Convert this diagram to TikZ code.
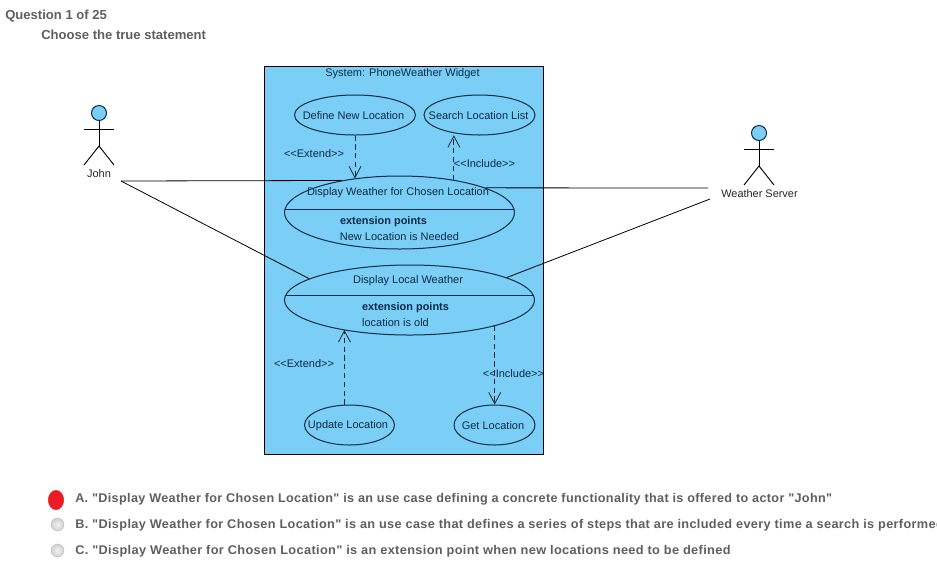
\documentclass[tikz,border=0pt]{standalone}
\usepackage{fontspec}
\setmainfont{Liberation Sans}
\newfontfamily\optfont[LetterSpace=2.7]{Liberation Sans}
\usetikzlibrary{shapes.geometric,arrows.meta,calc}
\definecolor{sysblue}{HTML}{7BCEF5}
\definecolor{ink}{HTML}{0A2A4A}
\definecolor{greytxt}{HTML}{5F5F5F}
\definecolor{alertred}{HTML}{ED1C24}
\newcommand{\gtgt}{{>}{>}}
\newcommand{\ltlt}{{<}{<}}
\tikzset{
  x=0.75pt,y=-0.75pt,
  system/.style={draw=black,line width=0.75pt,fill=sysblue},
  usecase/.style={ellipse,draw=ink,line width=0.75pt,fill=sysblue,inner sep=0pt},
  uctext/.style={inner sep=0pt,text=ink,font=\fontsize{8.25}{9.6}\selectfont},
  ucbold/.style={inner sep=0pt,text=ink,font=\bfseries\fontsize{8.2}{9.6}\selectfont},
  actorlabel/.style={inner sep=0pt,text=black!85,font=\fontsize{8.2}{9.6}\selectfont},
  assoc/.style={draw=black,line width=0.6pt},
  dep/.style={draw=ink,line width=0.6pt,dash pattern=on 4pt off 2.6pt,-{Straight Barb[length=8.5pt,width=9pt,line width=0.6pt]}},
  sep/.style={draw=ink,line width=0.75pt},
  actorline/.style={draw=black,line width=0.7pt},
  head/.style={circle,draw=ink,line width=0.75pt,fill=sysblue,inner sep=0pt,minimum size=11.25pt},
  qtext/.style={inner sep=0pt,anchor=west,text=greytxt,font=\bfseries\fontsize{9.8}{11}\selectfont},
  opt/.style={inner sep=0pt,anchor=west,text=greytxt,font=\optfont\bfseries\fontsize{9.45}{11}\selectfont},
  radio/.style={circle,draw=black!22,line width=0.6pt,inner color=white!90!gray,outer color=black!18,inner sep=0pt,minimum size=9.5pt}
}
\begin{document}
\begin{tikzpicture}
\useasboundingbox (0,0) rectangle (937,562);
\clip (0,0) rectangle (937,562);
\fill[white] (0,0) rectangle (937,562);

\node[qtext] (q1) at (5,16) {Question 1 of 25};
\node[qtext] (q2) at (41,35) {Choose the true statement};

\node[system,minimum width=209.25pt,minimum height=291pt,inner sep=0pt] (sys) at (404,260) {};
\node[uctext] (syst) at (402.5,74) {System: PhoneWeather Widget};

% actors
\node[head] (johnhead) at (99,113) {};
\coordinate (johnhip) at (99,146);
\draw[actorline] (johnhead.south) -- (johnhip);
\coordinate (johnal) at (84,129); \coordinate (johnar) at (114,129);
\coordinate (johnfl) at (84,165); \coordinate (johnfr) at (114,165);
\draw[actorline] (johnal) -- (johnar);
\draw[actorline] (johnfl) -- (johnhip) -- (johnfr);
\node[actorlabel] (john) at (99,174) {John};
\coordinate (johnport) at (121,181);

\node[head] (srvhead) at (759,133) {};
\coordinate (srvhip) at (759,166);
\draw[actorline] (srvhead.south) -- (srvhip);
\coordinate (srval) at (744,149); \coordinate (srvar) at (774,149);
\coordinate (srvfl) at (744,185); \coordinate (srvfr) at (774,185);
\draw[actorline] (srval) -- (srvar);
\draw[actorline] (srvfl) -- (srvhip) -- (srvfr);
\node[actorlabel] (srv) at (759.5,193.5) {Weather Server};
\coordinate (srvporta) at (708,188);
\coordinate (srvportb) at (710,199);

% use cases
\node[usecase,minimum width=90.75pt,minimum height=30pt] (def) at (355,115) {};
\node[usecase,minimum width=83.25pt,minimum height=30pt] (search) at (479.5,115) {};
\node[usecase,minimum width=172.5pt,minimum height=54.75pt] (dw) at (399.5,212.5) {};
\node[usecase,minimum width=187.5pt,minimum height=52.5pt] (dl) at (409.5,300) {};
\node[usecase,minimum width=67.5pt,minimum height=30pt] (upd) at (349.5,425) {};
\node[usecase,minimum width=60.75pt,minimum height=30pt] (get) at (494.5,425) {};
\node[uctext] (deft) at (353.5,115.5) {Define New Location};
\node[uctext] (searcht) at (478.5,115.5) {Search Location List};
\node[uctext] (updt) at (348,425.5) {Update Location};
\node[uctext] (gett) at (493,425.5) {Get Location};

% compartments
\draw[sep] (285,209) -- (514,209);
\draw[sep] (285,295) -- (534,295);

\node[uctext] (dwt) at (398,192.5) {Display Weather for Chosen Location};
\node[ucbold] (dwx) at (383.5,221.5) {extension points};
\node[uctext] (dwl) at (399.5,236.5) {New Location is Needed};
\node[uctext] (dlt) at (408,280.5) {Display Local Weather};
\node[ucbold] (dlx) at (405.5,308) {extension points};
\node[uctext] (dll) at (395.5,322.5) {location is old};

% associations
\draw[assoc] (johnport) -- (dw.151.5);
\draw[assoc] (johnport) -- (dl.168.5);
\draw[assoc] (srvporta) -- (dw.16.1);
\draw[assoc] (srvportb) -- (dl.13.8);

% dependencies
\draw[dep] (def.south) -- (def.south |- dw.143);
\draw[dep] (dw.31) -- (dw.31 |- search.-115);
\draw[dep] (upd.104) -- (upd.104 |- dl.204.7);
\draw[dep] (dl.343) -- (dl.343 |- get.north);

\node[uctext] (e1) at (314,153.5) {\ltlt Extend\gtgt};
\node[uctext] (i1) at (484.5,163.5) {\ltlt Include\gtgt};
\node[uctext] (e2) at (304,363.5) {\ltlt Extend\gtgt};
\node[uctext] (i2) at (513.5,373.5) {\ltlt Include\gtgt};

% answers
\node[ellipse,fill=alertred,draw=alertred,minimum width=11.5pt,minimum height=14.5pt,inner sep=0pt] (ra) at (56,500) {};
\node[radio] (rb) at (57.5,524.5) {};
\node[radio] (rc) at (57.5,550.5) {};
\node[opt,xscale=1.003,transform shape] (oa) at (75,499.5) {A. "Display Weather for Chosen Location" is an use case defining a concrete functionality that is offered to actor "John"};
\node[opt,xscale=1.01,transform shape] (ob) at (75,525.5) {B. "Display Weather for Chosen Location" is an use case that defines a series of steps that are included every time a search is performed};
\node[opt,xscale=1.014,transform shape] (oc) at (75,551.5) {C. "Display Weather for Chosen Location" is an extension point when new locations need to be defined};
\end{tikzpicture}
\end{document}
